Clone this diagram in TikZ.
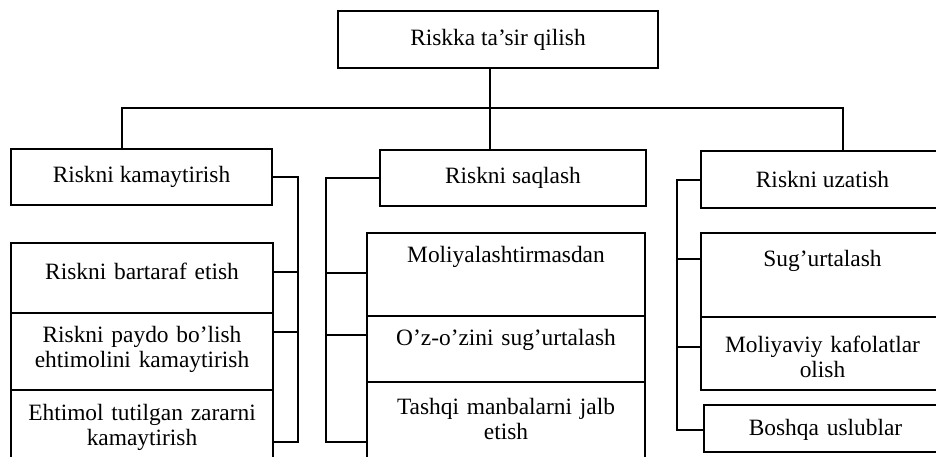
\documentclass[tikz,border=0pt]{standalone}
\usepackage{fontspec}
\setmainfont{Liberation Serif}
\usetikzlibrary{calc}

\tikzset{every picture/.style={line width=1pt}}
\tikzset{
  hbox/.style={draw, rectangle, inner sep=0pt, outer sep=0pt, minimum height=28pt, font=\fontsize{11.7}{12.5}\selectfont},
  cell/.style={draw, rectangle, anchor=north west, align=center, inner xsep=3pt, inner ysep=0pt, outer sep=0pt, font=\fontsize{11.7}{12.5}\selectfont},
  lcell/.style={cell, text width=125pt},
  mcell/.style={cell, text width=133pt},
  rcell/.style={cell, text width=115.5pt},
}

\begin{document}
\begin{tikzpicture}[x=0.5pt,y=0.5pt,yscale=-1,xscale=1]
	\useasboundingbox (0,0) rectangle (936,456);
	\clip (0,0) rectangle (936,456);

	% Text Node
	\node[hbox, minimum width=160pt, minimum height=28.5pt] (top) at (498,39.5) {Riskka ta'sir qilish};
	% Text Node
	\node[hbox, minimum width=130.5pt] (kam) at (141.5,177) {Riskni kamaytirish};
	% Text Node
	\node[hbox, minimum width=133pt] (saq) at (513,178) {Riskni saqlash};
	% Text Node
	\node[hbox, minimum width=121.5pt, minimum height=28.5pt] (uza) at (822.5,179.5) {Riskni uzatish};

	% left column
	\node[lcell, text height=18pt, text depth=17pt] (k1) at (11,243) {Riskni bartaraf etish};
	\node[lcell, text height=14.5pt, text depth=24pt] (k2) at (k1.south west) {Riskni paydo bo’lish\\ehtimolini kamaytirish};
	\node[lcell, text height=15pt, text depth=35pt] (k3) at (k2.south west) {Ehtimol tutilgan zararni\\kamaytirish};

	% middle column
	\node[mcell, text height=14.5pt, text depth=27pt] (s1) at (367,233) {Moliyalashtirmasdan};
	\node[mcell, text height=14.5pt, text depth=18.5pt] (s2) at (s1.south west) {O’z-o’zini sug’urtalash};
	\node[mcell, text height=16pt, text depth=30pt] (s3) at (s2.south west) {Tashqi manbalarni jalb\\etish};

	% right column
	\node[rcell, text height=16.5pt, text depth=25.5pt] (u1) at (701,233) {Sug’urtalash};
	\node[rcell, text height=17.5pt, text depth=19pt] (u2) at (u1.south west) {Moliyaviy kafolatlar\\olish};
	\node[rcell, text height=15pt, text depth=8.5pt] (u3) at (704,405) {Boshqa uslublar};

	%Straight Lines
	\coordinate (trunk) at ($(top.south)+(-8,0)$);
	\draw (trunk) -- (trunk |- saq.north);
	\coordinate (busL) at (122,108);
	\coordinate (busR) at (843,108);
	\draw (busL |- kam.north) -- (busL) -- (busR) -- (busR |- uza.north);

	%Straight Lines
	\coordinate (kt1) at (298,272);
	\coordinate (kt2) at (298,332);
	\coordinate (kt3) at (298,442);
	\draw (kam.east) -| (kt3) -- (kt3 -| k3.east);
	\draw (kt1) -- (kt1 -| k1.east);
	\draw (kt2) -- (kt2 -| k2.east);

	%Straight Lines
	\coordinate (st1) at (326,273);
	\coordinate (st2) at (326,335);
	\coordinate (st3) at (326,442);
	\draw (saq.west) -| (st3) -- (st3 -| s3.west);
	\draw (st1) -- (st1 -| s1.west);
	\draw (st2) -- (st2 -| s2.west);

	%Straight Lines
	\coordinate (ut1) at (677,259);
	\coordinate (ut2) at (677,347);
	\coordinate (ut3) at (677,430);
	\draw (uza.west) -| (ut3) -- (ut3 -| u3.west);
	\draw (ut1) -- (ut1 -| u1.west);
	\draw (ut2) -- (ut2 -| u2.west);

\end{tikzpicture}
\end{document}
